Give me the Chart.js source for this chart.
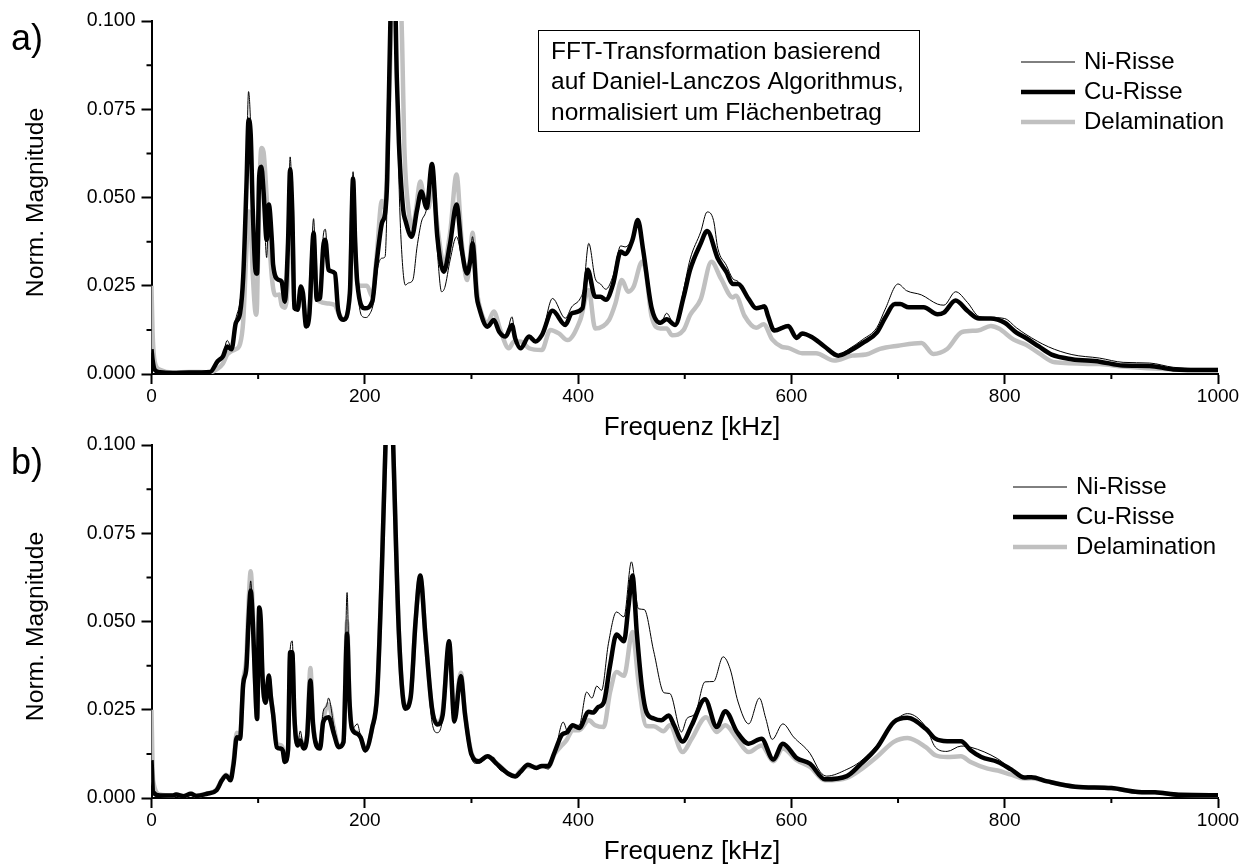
<!DOCTYPE html>
<html>
<head>
<meta charset="utf-8">
<title>FFT</title>
<script src="https://cdn.jsdelivr.net/npm/chart.js@4/dist/chart.umd.min.js"></script>
<style>
  html, body { margin: 0; padding: 0; background: #fff; }
  canvas { position: absolute; left: 0; }
  #chartA { top: 0; }
  #chartB { top: 424px; }
</style>
</head>
<body>
<canvas id="chartA" width="1248" height="444"></canvas>
<canvas id="chartB" width="1248" height="444"></canvas>
<script>
const freqMinor = [100, 300, 500, 700, 900];
const magMinor = [0.0125, 0.0375, 0.0625, 0.0875];
const seriesNames = ['Ni-Risse', 'Cu-Risse', 'Delamination'];
const noteLines = ['FFT-Transformation basierend', 'auf Daniel-Lanczos Algorithmus,', 'normalisiert um Flächenbetrag'];
const xTitle = 'Frequenz [kHz]';
const yTitle = 'Norm. Magnitude';

// [kHz, magnitude]
const aNi = [[0,.006],[1,.003],[3,.001],[8,.0004],[20,.0003],[35,.0003],[55,.0006],[62,.0033],[67,.0055],[71,.0095],[75,.0075],[79,.0155],[83,.0205],[86,.03],[89,.058],[91,.08],[93,.07],[95,.046],[98,.0285],[99,.028],[101,.054],[103,.056],[105,.05],[108,.033],[110,.047],[113,.034],[114,.03],[119,.0265],[122,.026],[125,.0205],[128,.038],[130,.0615],[132,.047],[134,.019],[137,.0185],[140,.025],[142,.0225],[145,.013],[148,.017],[152,.044],[155,.021],[158,.022],[161,.039],[163,.041],[166,.03],[172,.0285],[175,.0175],[180,.015],[186,.024],[189,.0573],[191,.037],[193,.025],[197,.0165],[201,.016],[204,.0167],[208,.02],[212,.03],[216,.0328],[219,.0332],[221,.05],[224,.1],[227,.128],[230,.085],[232,.055],[234,.038],[238,.0252],[241,.0258],[245,.0266],[249,.036],[253,.043],[258,.047],[263,.06],[268,.035],[272,.0233],[275,.0245],[280,.0323],[286,.0389],[291,.033],[296,.0285],[299,.034],[301,.0389],[305,.022],[307,.019],[315,.0134],[321,.0153],[326,.012],[332,.0106],[338,.0162],[341,.0105],[346,.0075],[354,.011],[360,.0095],[366,.011],[376,.0214],[388,.0158],[394,.019],[402,.0214],[405,.024],[410,.037],[416,.0271],[421,.0255],[426,.024],[433,.028],[440,.0363],[444,.036],[451,.0385],[456,.0436],[461,.035],[469,.0186],[477,.014],[483,.0172],[491,.0135],[499,.024],[505,.0325],[515,.0403],[521,.0459],[527,.0435],[531,.0356],[539,.0308],[545,.027],[550,.0262],[560,.0214],[567,.0189],[575,.0196],[578,.017],[584,.0127],[597,.014],[605,.0098],[610,.0115],[619,.0106],[631,.008],[644,.0055],[654,.0071],[667,.0098],[680,.0131],[688,.0184],[700,.0255],[708,.0236],[722,.0224],[737,.0198],[743,.0195],[754,.0233],[765,.0203],[776,.0163],[787,.016],[800,.0157],[811,.0131],[820,.0112],[841,.0077],[863,.0055],[889,.0045],[911,.0033],[936,.0031],[958,.0019],[1000,.0013]];
const aCu = [[0,.007],[1,.004],[3,.0012],[8,.0005],[20,.0003],[35,.0004],[55,.0006],[62,.0036],[67,.005],[71,.0078],[75,.007],[79,.0144],[83,.0172],[86,.0276],[89,.053],[91,.072],[93,.068],[95,.046],[98,.0285],[99,.0285],[101,.056],[103,.0587],[105,.052],[108,.038],[110,.048],[113,.037],[114,.031],[119,.0267],[122,.0262],[125,.0205],[128,.037],[130,.058],[132,.046],[134,.0187],[137,.0182],[140,.0248],[142,.0229],[145,.0135],[148,.0168],[152,.04],[155,.021],[158,.0215],[161,.036],[163,.038],[166,.0295],[172,.0285],[175,.0182],[180,.0154],[186,.0229],[189,.0554],[191,.037],[193,.0257],[200,.0186],[207,.0205],[211,.0313],[216,.0427],[219,.0455],[221,.055],[224,.1],[227,.125],[230,.084],[232,.0654],[236,.0465],[238,.0436],[244,.0389],[249,.0465],[253,.0517],[258,.047],[263,.0595],[268,.0389],[274,.029],[280,.037],[286,.048],[291,.0351],[296,.0285],[299,.0323],[301,.037],[305,.0219],[307,.019],[315,.0134],[321,.0153],[326,.012],[332,.0106],[338,.0139],[341,.0101],[346,.0073],[354,.0106],[360,.0092],[366,.011],[376,.0179],[388,.0139],[394,.0172],[404,.0186],[409,.0295],[416,.0219],[421,.0219],[426,.021],[433,.0257],[440,.0347],[444,.034],[451,.038],[456,.0436],[461,.0351],[469,.0186],[477,.0145],[483,.0155],[491,.0139],[499,.0219],[505,.0295],[515,.037],[521,.0405],[531,.0327],[539,.0289],[545,.0255],[550,.0255],[560,.0212],[567,.0186],[575,.0191],[578,.0165],[584,.0123],[597,.0136],[605,.0102],[610,.0115],[619,.0105],[631,.0078],[644,.0052],[654,.0064],[667,.0088],[680,.0117],[688,.016],[697,.0198],[702,.0198],[710,.0189],[724,.0189],[737,.0169],[743,.0174],[754,.0208],[765,.0179],[776,.0157],[787,.0157],[800,.0145],[811,.0117],[820,.0102],[832,.0078],[844,.0055],[863,.0042],[889,.0035],[911,.0024],[936,.0023],[958,.0013],[1000,.0011]];
const aDel = [[0,.025],[1,.012],[3,.0035],[8,.0012],[20,.0004],[35,.0006],[55,.0005],[62,.0015],[67,.003],[71,.0055],[75,.0065],[79,.007],[83,.0085],[86,.015],[89,.035],[91,.046],[93,.043],[95,.028],[98,.0168],[99,.02],[101,.05],[103,.064],[105,.063],[108,.05],[110,.04],[113,.027],[116,.0223],[120,.0225],[122,.0195],[125,.0188],[128,.028],[130,.053],[132,.043],[134,.0195],[137,.0185],[140,.0235],[142,.022],[145,.0145],[148,.018],[152,.037],[155,.0225],[158,.0205],[165,.02],[172,.0195],[175,.0175],[180,.0155],[186,.022],[189,.053],[191,.036],[193,.0255],[196,.025],[202,.025],[207,.022],[211,.033],[216,.049],[219,.047],[221,.06],[224,.09],[227,.12],[231,.125],[235,.094],[237,.065],[241,.0465],[245,.0415],[248,.0465],[252,.0545],[256,.049],[260,.047],[263,.056],[268,.042],[274,.0315],[280,.04],[286,.0565],[291,.037],[296,.0266],[299,.034],[301,.04],[305,.024],[307,.02],[315,.0145],[321,.0177],[327,.0125],[335,.0073],[340,.0092],[346,.0092],[354,.0073],[366,.0068],[374,.0125],[382,.0115],[390,.0096],[402,.0153],[410,.0238],[416,.0129],[429,.0153],[435,.02],[441,.0266],[447,.0233],[452,.0247],[460,.0318],[463,.03],[469,.0162],[477,.0129],[483,.0129],[488,.011],[499,.0125],[505,.0167],[515,.0212],[525,.0318],[534,.027],[545,.0217],[548,.0222],[556,.0165],[567,.0131],[574,.0141],[582,.0098],[591,.0077],[597,.0074],[610,.0059],[623,.0059],[640,.0038],[657,.0052],[670,.0055],[683,.0071],[700,.008],[722,.0088],[733,.0057],[746,.0071],[760,.0119],[775,.0123],[787,.0136],[795,.0128],[808,.0098],[820,.0083],[832,.0059],[847,.0033],[889,.0028],[911,.0021],[958,.0013],[1000,.0011]];

const bNi = [[0,.0105],[1.5,.0015],[8,.0006],[20,.0006],[23,.0009],[30,.0005],[37,.0011],[42,.0006],[52,.0012],[61,.002],[66,.005],[70,.0064],[74,.005],[77,.0095],[80,.017],[83,.017],[86,.032],[89,.037],[91,.05],[93,.0615],[95,.05],[97,.034],[99,.0224],[101,.054],[102.5,.05],[104,.035],[107,.027],[110,.0347],[112,.0285],[114,.0238],[117.5,.0144],[121,.014],[123,.0135],[125,.0102],[128,.014],[130,.042],[132,.0445],[134,.023],[137,.0155],[139.5,.019],[142.6,.0145],[146,.017],[149,.03],[151.4,.021],[154.5,.0165],[158,.015],[161,.0245],[164,.026],[166,.0283],[171,.0205],[175.5,.0145],[180,.0155],[183.4,.0582],[185.6,.03],[188,.0195],[193,.021],[196,.0175],[200.6,.013],[207,.02],[211.6,.028],[216,.065],[219.4,.1],[223,.14],[226.6,.1],[232,.047],[238,.0255],[243,.028],[247.6,.05],[252,.0625],[257,.0445],[263,.0215],[268,.0185],[273,.0225],[279,.0435],[284,.0215],[290,.035],[294,.023],[300,.0115],[304,.0098],[307,.0098],[315,.0115],[321,.0115],[324,.009],[335,.0068],[341,.006],[346,.0075],[353,.0092],[361,.0083],[366,.0088],[372,.0082],[378,.0125],[386,.0215],[391,.0182],[395,.0206],[401,.0206],[408,.03],[413,.0283],[417.5,.0317],[422,.0305],[428.4,.0437],[436,.0527],[443,.0513],[450,.0669],[456.6,.0536],[462,.0534],[471,.0414],[480.6,.0298],[486,.0296],[497,.0187],[502,.0225],[509.7,.0239],[519,.0329],[527,.033],[536,.04],[542.5,.0366],[550,.0272],[560,.021],[570,.0283],[576,.0225],[582,.0166],[592,.021],[602,.0173],[617.5,.0126],[627,.0074],[633,.0062],[652,.0081],[664,.0102],[680,.0149],[696,.0215],[709,.0239],[726,.0201],[735,.0144],[746,.0132],[759,.0147],[768,.0144],[793.5,.0111],[806,.0082],[818.5,.0058],[825,.0059],[840,.0048],[866,.0033],[900,.0029],[925,.0018],[941,.0016],[963,.001],[1000,.0008]];
const bCu = [[0,.0107],[1.5,.0017],[8,.0007],[20,.0007],[23,.001],[30,.0005],[37,.0012],[42,.0006],[52,.0012],[61,.0022],[66,.005],[70,.0064],[74,.005],[77,.0097],[80,.0172],[83,.0168],[86,.0323],[89,.037],[91,.0502],[93,.0587],[95,.05],[97,.034],[99,.0224],[101,.054],[102.5,.05],[104,.035],[107,.027],[110,.0347],[112,.0285],[114,.0238],[117.5,.0144],[121,.014],[123,.0135],[125,.0102],[128,.0135],[130,.0413],[132,.0413],[134,.0229],[137,.0149],[139.5,.0163],[142.6,.014],[146,.0177],[149,.0333],[151.4,.021],[154.5,.0149],[158,.014],[161,.0215],[166,.0229],[171,.0182],[175.5,.0144],[180,.0158],[183.4,.0465],[185.6,.0276],[188,.0196],[193,.0182],[196,.0172],[200.6,.0135],[207,.02],[211.6,.0295],[216,.065],[219.4,.1],[223,.135],[226.6,.1],[232,.0465],[238,.0253],[243,.0285],[247.6,.05],[252,.063],[257,.0453],[263,.0255],[268,.0208],[273,.0235],[279,.0444],[284,.0217],[290,.0345],[294,.0236],[300,.0123],[307,.0104],[315,.0118],[324,.0096],[335,.0068],[341,.0061],[346,.0074],[353,.0094],[361,.0085],[366,.0091],[372,.0091],[378,.013],[385,.018],[389,.0185],[395,.0206],[401,.0198],[410,.0244],[414,.0242],[419,.0258],[424,.027],[430,.0376],[436,.0463],[443,.0444],[447,.0536],[451,.063],[455,.047],[460,.031],[464,.0244],[471,.0225],[478,.022],[485,.0234],[490,.0206],[498,.016],[506.5,.0206],[519,.028],[530,.0201],[538,.0246],[549,.0187],[560,.0154],[572,.0168],[583,.0109],[592,.0154],[605,.0113],[617.5,.0097],[631.5,.0053],[652,.0062],[664,.0093],[680,.0142],[696,.0215],[708.7,.0227],[726,.0196],[735,.0168],[746,.0161],[759,.0161],[768,.0135],[778,.0116],[793.5,.0102],[806,.0081],[818.5,.0058],[825,.0059],[840,.0047],[866,.0032],[900,.0028],[925,.0017],[941,.0016],[963,.0009],[1000,.0008]];
const bDel = [[0,.025],[1.5,.005],[8,.001],[20,.0007],[23,.001],[30,.0006],[37,.0012],[42,.0007],[52,.0013],[61,.0024],[66,.0052],[70,.0066],[74,.0055],[77,.0105],[80,.0185],[83,.0175],[86,.033],[89,.04],[91,.055],[93,.0642],[95,.053],[97,.034],[99,.0224],[101,.052],[102.5,.048],[104,.034],[107,.027],[110,.034],[112,.0285],[114,.024],[117.5,.0155],[121,.015],[123,.0142],[125,.0105],[128,.014],[130,.04],[132,.041],[134,.023],[137,.015],[139.5,.017],[142.6,.0145],[146,.018],[149,.0368],[151.4,.022],[154.5,.0155],[158,.0145],[161,.022],[166,.0265],[171,.02],[175.5,.0146],[180,.016],[183.4,.05],[185.6,.028],[188,.02],[193,.0185],[196,.0172],[200.6,.0135],[207,.02],[211.6,.03],[216,.065],[219.4,.1],[223,.133],[226.6,.1],[232,.0465],[238,.0258],[243,.029],[247.6,.05],[252,.0625],[257,.0455],[263,.025],[268,.0215],[273,.0245],[279,.0425],[284,.0235],[290,.0355],[294,.024],[300,.0128],[307,.0105],[315,.0118],[324,.0098],[335,.0068],[341,.0062],[346,.0078],[353,.009],[361,.0087],[366,.009],[372,.0088],[378,.0125],[385,.015],[389,.0163],[395,.0192],[401,.0192],[410,.022],[416,.0206],[424,.0201],[430,.03],[436,.0357],[443,.0346],[451,.047],[456.6,.0329],[464,.0204],[471,.0203],[480,.0189],[486,.0206],[498,.013],[506.5,.0168],[520,.0229],[530,.0187],[538,.0206],[549,.0168],[560,.013],[572,.0149],[583,.0104],[592,.014],[605,.0107],[617.5,.0088],[631.5,.005],[652,.0057],[664,.0078],[680,.0116],[696,.0159],[709,.017],[726,.0144],[735,.0121],[746,.0116],[759,.0118],[768,.0102],[784,.0083],[793.5,.0078],[806,.0066],[818.5,.0055],[825,.0056],[840,.0047],[866,.0032],[900,.0028],[925,.0017],[941,.0016],[963,.0009],[1000,.0008]];

const FONT = '"Liberation Sans", Arial, sans-serif';
const INK = '#000';

// half-step ticks; Chart.js has only one tickLength per axis
const minorTicks = {
  id: 'minorTicks',
  afterDraw(chart) {
    const { ctx, scales: { x, y } } = chart;
    ctx.save();
    ctx.strokeStyle = INK;
    ctx.lineWidth = 2;
    ctx.beginPath();
    freqMinor.forEach(v => {
      const px = x.getPixelForValue(v);
      ctx.moveTo(px, x.top);
      ctx.lineTo(px, x.top + 5);
    });
    magMinor.forEach(v => {
      const py = y.getPixelForValue(v);
      ctx.moveTo(y.right, py);
      ctx.lineTo(y.right - 5, py);
    });
    ctx.stroke();
    ctx.restore();
  }
};

// axis titles (not centred on the axes in the original), legend, panel letter, note box
const panelText = {
  id: 'panelText',
  afterDraw(chart, args, opts) {
    const ctx = chart.ctx;
    ctx.save();
    ctx.fillStyle = INK;
    ctx.textBaseline = 'middle';
    ctx.font = '36px ' + FONT;
    ctx.fillText(opts.letter, 11, 40);

    ctx.textAlign = 'center';
    ctx.font = '26px ' + FONT;
    ctx.fillText(xTitle, 692, 428);
    ctx.save();
    ctx.translate(36, 202.5);
    ctx.rotate(-Math.PI / 2);
    ctx.font = '24.7px ' + FONT;
    ctx.fillText(yTitle, 0, 0);
    ctx.restore();
    ctx.textAlign = 'left';

    ctx.font = '24px ' + FONT;
    chart.data.datasets.forEach((ds, i) => {
      const y = opts.legendY + i * 30;
      ctx.strokeStyle = ds.borderColor;
      ctx.lineWidth = ds.borderWidth;
      ctx.beginPath();
      ctx.moveTo(opts.legendX, y);
      ctx.lineTo(opts.legendX + 54, y);
      ctx.stroke();
      ctx.fillText(ds.label, opts.legendX + 63, y);
    });

    if (opts.note) {
      ctx.strokeStyle = INK;
      ctx.lineWidth = 1;
      ctx.strokeRect(538.5, 30.5, 381, 101);
      ctx.font = '24.5px ' + FONT;
      opts.note.forEach((line, i) => ctx.fillText(line, 551, 52 + i * 30.5));
    }
    ctx.restore();
  }
};

function drawPanel(id, ni, cu, del, text) {
  return new Chart(document.getElementById(id), {
    type: 'line',
    data: {
      datasets: [
        { label: seriesNames[0], data: ni, borderColor: INK, borderWidth: 1 },
        { label: seriesNames[1], data: cu, borderColor: INK, borderWidth: 4.5 },
        { label: seriesNames[2], data: del, borderColor: '#c0c0c0', borderWidth: 4.5 }
      ]
    },
    options: {
      responsive: false,
      animation: false,
      elements: {
        point: { radius: 0 },
        line: { cubicInterpolationMode: 'monotone', borderJoinStyle: 'round' }
      },
      layout: { padding: { top: 21, right: 30 } },
      plugins: { legend: { display: false }, tooltip: { enabled: false }, panelText: text },
      scales: {
        x: {
          type: 'linear',
          min: 0,
          max: 1000,
          afterFit: s => { s.height = 70; },
          border: { color: INK, width: 2 },
          grid: { drawOnChartArea: false, color: INK, tickLength: 10, tickWidth: 2 },
          ticks: { stepSize: 200, color: INK, padding: 1, maxRotation: 0, font: { family: FONT, size: 19 }, callback: v => String(v) }
        },
        y: {
          min: 0,
          max: 0.1,
          afterFit: s => { s.width = 151.5; },
          border: { color: INK, width: 2 },
          grid: { drawOnChartArea: false, color: INK, tickLength: 10, tickWidth: 2 },
          ticks: { stepSize: 0.025, color: INK, padding: 6, font: { family: FONT, size: 19.5 }, callback: v => v.toFixed(3) }
        }
      }
    },
    plugins: [minorTicks, panelText]
  });
}

drawPanel('chartA', aNi, aCu, aDel, { letter: 'a)', legendX: 1021, legendY: 62, note: noteLines });
drawPanel('chartB', bNi, bCu, bDel, { letter: 'b)', legendX: 1013, legendY: 63 });
</script>
</body>
</html>
